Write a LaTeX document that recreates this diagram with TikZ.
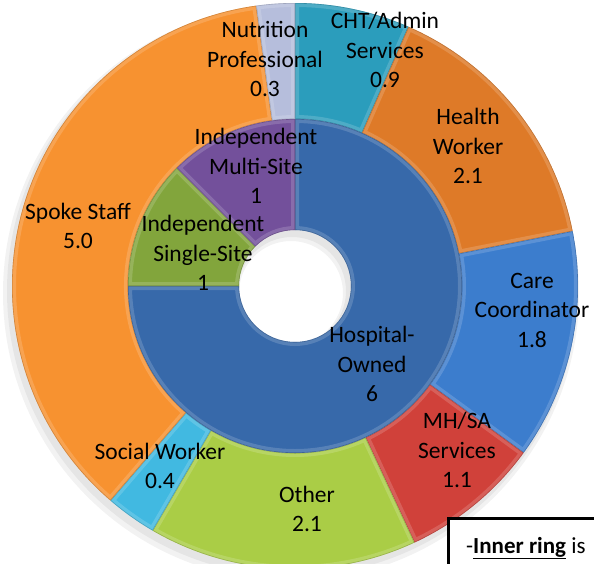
\documentclass[tikz,border=0pt]{standalone}
\usepackage{fontspec}
\setmainfont{Carlito}
\usetikzlibrary{calc}
\definecolor{spoke}{RGB}{247,146,48}
\definecolor{health}{RGB}{222,122,40}
\definecolor{cht}{RGB}{43,157,188}
\definecolor{nutr}{RGB}{182,190,220}
\definecolor{carec}{RGB}{60,125,205}
\definecolor{mhsa}{RGB}{208,65,58}
\definecolor{other}{RGB}{170,205,70}
\definecolor{social}{RGB}{65,185,225}
\definecolor{hosp}{RGB}{55,105,170}
\definecolor{single}{RGB}{130,165,60}
\definecolor{multi}{RGB}{115,80,155}
\newcommand\ringseg[5]{%
  \begin{scope}
    \clip ([shift={(#2:#5)}]C) arc[start angle=#2,end angle=#3,radius=#5]
      -- ([shift={(#3:#4)}]C) arc[start angle=#3,end angle=#2,radius=#4] -- cycle;
    \fill[#1] (C) circle[radius=#5+5pt];
    \draw[white,opacity=.16,line width=8pt,line join=round]
      ([shift={(#2:#5)}]C) arc[start angle=#2,end angle=#3,radius=#5]
      -- ([shift={(#3:#4)}]C) arc[start angle=#3,end angle=#2,radius=#4] -- cycle;
    \draw[#1!70!black,opacity=.5,line width=1.2pt,line join=round]
      ([shift={(#2:#5)}]C) arc[start angle=#2,end angle=#3,radius=#5]
      -- ([shift={(#3:#4)}]C) arc[start angle=#3,end angle=#2,radius=#4] -- cycle;
  \end{scope}}
\tikzset{lbl/.style={align=center,inner sep=0pt,font=\fontsize{23.5}{29.5}\selectfont}}
\begin{document}
\begin{tikzpicture}[x=1pt,y=1pt]
\clip (0,0) rectangle (594,-563);
\fill[white] (0,0) rectangle (594,-563);
\coordinate (C) at (295,-286);
% soft shadow
\fill[black,opacity=.05,even odd rule] ($(C)+(-4,-7)$) circle[radius=288pt] ($(C)+(-4,-7)$) circle[radius=52pt];
\fill[black,opacity=.05,even odd rule] ($(C)+(-3,-5)$) circle[radius=285pt] ($(C)+(-3,-5)$) circle[radius=54pt];
% outer ring
\ringseg{cht}{90}{66.35}{167pt}{283pt}
\ringseg{health}{66.35}{11.17}{167pt}{283pt}
\ringseg{carec}{11.17}{-36.13}{167pt}{283pt}
\ringseg{mhsa}{-36.13}{-65.03}{167pt}{283pt}
\ringseg{other}{-65.03}{-120.21}{167pt}{283pt}
\ringseg{social}{-120.21}{-130.72}{167pt}{283pt}
\ringseg{spoke}{-130.72}{-262.11}{167pt}{283pt}
\ringseg{nutr}{-262.11}{-270}{167pt}{283pt}
% inner ring
\ringseg{hosp}{90}{-180}{56pt}{167pt}
\ringseg{single}{180}{135}{56pt}{167pt}
\ringseg{multi}{135}{90}{56pt}{167pt}
% labels
\node[lbl] (nutrL) at (265,-59) {Nutrition\\Professional\\0.3};
\node[lbl] (chtL) at (385,-50) {CHT/Admin\\Services\\0.9};
\node[lbl] (healthL) at (468,-146) {Health\\Worker\\2.1};
\node[lbl] (careL) at (532,-310) {Care\\Coordinator\\1.8};
\node[lbl] (mhsaL) at (457,-450) {MH/SA\\Services\\1.1};
\node[lbl] (otherL) at (307,-509) {Other\\2.1};
\node[lbl] (socialL) at (160,-466) {Social Worker\\0.4};
\node[lbl] (spokeL) at (78,-226) {Spoke Staff\\5.0};
\node[lbl] (multiL) at (256,-166) {Independent\\Multi-Site\\1};
\node[lbl] (singleL) at (203,-253) {Independent\\Single-Site\\1};
\node[lbl] (hospL) at (372,-364) {Hospital-\\Owned\\6};
% note box
\draw[line width=3pt,fill=white] (448,-518) rectangle (620,-600);
\node[inner sep=0pt,anchor=base west,font=\fontsize{23}{28}\selectfont] (note) at (466,-553) {-\textbf{\underline{Inner ring}} is};
\end{tikzpicture}
\end{document}
